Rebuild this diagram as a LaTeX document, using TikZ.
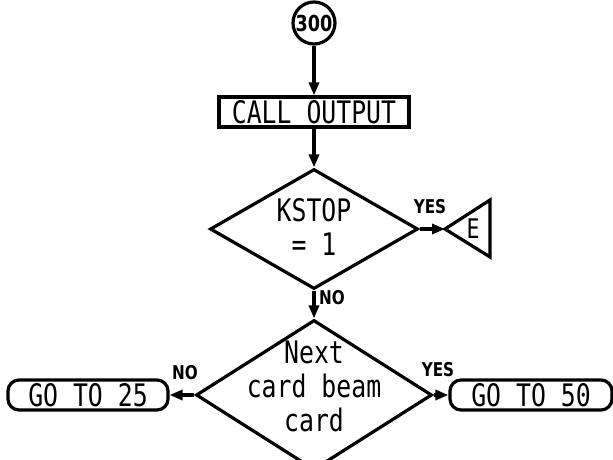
\documentclass[tikz,border=0pt]{standalone}
\usepackage{fontspec}
\usetikzlibrary{shapes.geometric,arrows.meta}
\newfontfamily\monofnt[FakeStretch=0.8]{DejaVu Sans Mono}
\newfontfamily\lblfnt[FakeStretch=0.8]{DejaVu Sans}
\begin{document}
\begin{tikzpicture}[x=1pt,y=-1pt,line width=3.2pt,
  txt/.style={font=\monofnt\fontsize{31}{34}\selectfont},
  yn/.style={font=\lblfnt\bfseries\fontsize{19}{19}\selectfont,inner sep=0pt},
  arr/.style={-{Triangle[length=13pt,width=10pt]}},
  proc/.style={draw,rectangle,minimum width=190pt,minimum height=30pt,inner sep=0pt,txt},
  dec/.style={draw,diamond,inner sep=0pt},
  term/.style={draw,rounded corners=11pt,minimum height=30pt,inner sep=0pt,txt},
  conn/.style={draw,circle,minimum size=42pt,inner sep=0pt,font=\lblfnt\bfseries\fontsize{22}{22}\selectfont}]
\clip (0,0) rectangle (613,460);
\node[conn] (c300) at (314,23) {300};
\node[proc] (out) at (314,112) {CALL OUTPUT};
\node[dec,minimum width=208pt,minimum height=120pt] (d1) at (314,229) {};
\node[txt,align=center] (d1t) at (314,227) {KSTOP\\= 1};
\coordinate (eA) at (445,229);
\coordinate (eT) at (490,200);
\coordinate (eB) at (490,257);
\draw[line join=miter] (eA) -- (eT) -- (eB) -- cycle;
\node[txt,font=\monofnt\fontsize{27}{30}\selectfont] (eE) at (473,229) {E};
\node[dec,minimum width=236pt,minimum height=150pt] (d2) at (314,395) {};
\node[txt,align=center] (d2t) at (314,386) {Next\\card beam\\card};
\node[term,minimum width=160pt] (g25) at (88,395) {GO TO 25};
\node[term,minimum width=162pt] (g50) at (531,395) {GO TO 50};
\draw[arr] (c300) -- (out);
\draw[arr] (out) -- (d1);
\draw[arr] (d1.east) -- (eA);
\draw[arr] (d1.south) -- (d2.north);
\draw[arr] (d2.west) -- (g25.east);
\draw[arr] (d2.east) -- (g50.west);
\node[yn] (y1) at (430,207) {YES};
\node[yn] (n1) at (332,298) {NO};
\node[yn] (n2) at (185,373) {NO};
\node[yn] (y2) at (438,370) {YES};
\end{tikzpicture}
\end{document}
